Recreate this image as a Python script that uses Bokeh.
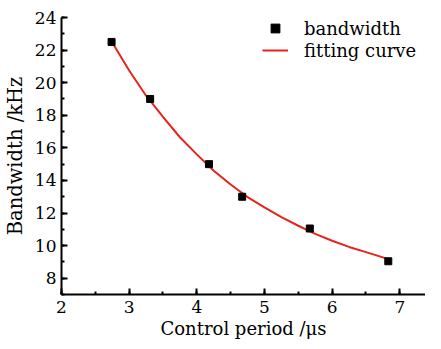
from bokeh.plotting import figure
from bokeh.models import SingleIntervalTicker, Range1d, Legend, LegendItem
from bokeh.embed import file_html
from bokeh.resources import INLINE

# measured data
period = [2.74, 3.31, 4.18, 4.67, 5.67, 6.83]
bandwidth = [22.5, 19.0, 15.0, 13.0, 11.05, 9.04]

# fitting curve
fit_x = [2.73, 3.0, 3.25, 3.5, 3.75, 4.0, 4.25, 4.5, 4.75, 5.0, 5.25, 5.5,
         5.75, 6.0, 6.25, 6.5, 6.75, 6.83]
fit_y = [22.6, 20.75, 19.2, 17.9, 16.65, 15.6, 14.6, 13.75, 12.98, 12.35,
         11.75, 11.22, 10.72, 10.3, 9.92, 9.6, 9.28, 9.17]

FONT = "DejaVu Serif"

p = figure(width=425, height=341, output_backend="svg", toolbar_location=None,
           x_range=Range1d(2, 7.38), y_range=Range1d(7, 24),
           min_border_left=53, min_border_right=0, min_border_top=17,
           min_border_bottom=46)
p.outline_line_color = None
p.xgrid.visible = False
p.ygrid.visible = False
p.background_fill_color = "white"

p.xaxis.ticker = SingleIntervalTicker(interval=1, num_minor_ticks=2)
p.yaxis.ticker = SingleIntervalTicker(interval=2, num_minor_ticks=2)
for ax in (p.xaxis, p.yaxis):
    ax.axis_line_width = 2
    ax.axis_line_color = "black"
    ax.major_tick_line_color = "black"
    ax.major_tick_line_width = 2
    ax.minor_tick_line_color = "black"
    ax.minor_tick_line_width = 2
    ax.major_tick_in = 6
    ax.major_tick_out = 0
    ax.minor_tick_in = 3
    ax.minor_tick_out = 0
    ax.major_label_text_font = FONT
    ax.major_label_text_font_size = "17px"
    ax.major_label_text_color = "black"
    ax.axis_label_text_font = FONT
    ax.axis_label_text_font_style = "normal"
    ax.axis_label_text_color = "black"

p.xaxis.axis_label = "Control period /μs"
p.yaxis.axis_label = "Bandwidth /kHz"
p.xaxis.axis_label_text_font_size = "18px"
p.yaxis.axis_label_text_font_size = "19.5px"
p.xaxis.major_label_standoff = 6
p.yaxis.major_label_standoff = 5
p.xaxis.axis_label_standoff = 2
p.yaxis.axis_label_standoff = 5

line = p.line(fit_x, fit_y, line_color="#e8221e", line_width=2)
pts = p.scatter(period, bandwidth, marker="square", size=7, color="black")

legend = Legend(items=[LegendItem(label="bandwidth", renderers=[pts]),
                       LegendItem(label="fitting curve", renderers=[line])],
                location=(201, 233))
legend.border_line_color = None
legend.background_fill_alpha = 0
legend.padding = 0
legend.margin = 0
legend.spacing = 0
legend.glyph_width = 26
legend.glyph_height = 22
legend.label_height = 22
legend.label_standoff = 16
legend.label_text_font = FONT
legend.label_text_font_size = "18px"
legend.label_text_line_height = 1.0
legend.label_text_color = "black"
p.add_layout(legend, "center")

open("out.html", "w").write(file_html(p, INLINE))
